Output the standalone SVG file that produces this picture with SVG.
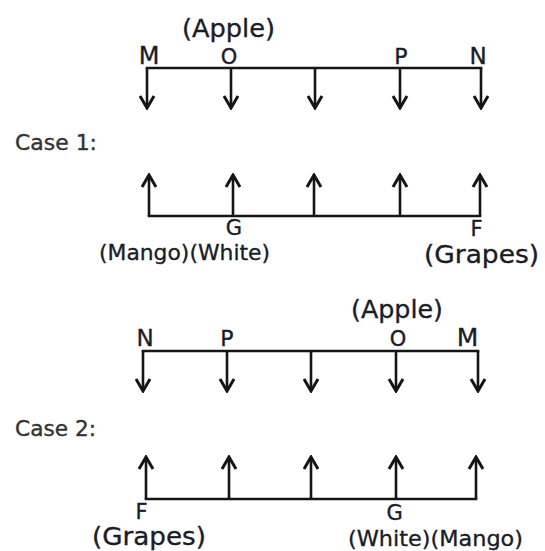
<svg xmlns="http://www.w3.org/2000/svg" width="545" height="551" viewBox="0 0 545 551">
<defs>
<marker id="ah" markerUnits="userSpaceOnUse" viewBox="-16 -10 18 20" refX="0" refY="0" markerWidth="18" markerHeight="20" orient="auto">
<path d="M-12,-7 L0,0 L-12,7" fill="none" stroke="#151515" stroke-width="3"/>
</marker>
</defs>
<style>
.ln{stroke:#151515;stroke-width:2.6;fill:none;stroke-linecap:square}
.ar{stroke:#151515;stroke-width:2.6;fill:none;marker-end:url(#ah)}
text{font-family:"DejaVu Sans","Liberation Sans",sans-serif;fill:#1c1c28;stroke:#1c1c28;stroke-width:0.35}
.lb{text-anchor:middle}
.cs{fill:#333;stroke:#333;font-size:21px}
</style>
<rect width="545" height="551" fill="#fff"/>
<g id="connectors">
<line class="ln" x1="147" y1="68" x2="481" y2="68"/>
<line class="ar" x1="147" y1="68" x2="147" y2="108"/>
<line class="ar" x1="231" y1="68" x2="231" y2="108"/>
<line class="ar" x1="315" y1="68" x2="315" y2="108"/>
<line class="ar" x1="400" y1="68" x2="400" y2="108"/>
<line class="ar" x1="481" y1="68" x2="481" y2="108"/>
<line class="ln" x1="149" y1="216" x2="480" y2="216"/>
<line class="ar" x1="149" y1="216" x2="149" y2="175"/>
<line class="ar" x1="233" y1="216" x2="233" y2="175"/>
<line class="ar" x1="314" y1="216" x2="314" y2="175"/>
<line class="ar" x1="400" y1="216" x2="400" y2="175"/>
<line class="ar" x1="480" y1="216" x2="480" y2="175"/>
<line class="ln" x1="143" y1="351" x2="478" y2="351"/>
<line class="ar" x1="143" y1="351" x2="143" y2="391"/>
<line class="ar" x1="227" y1="351" x2="227" y2="391"/>
<line class="ar" x1="311" y1="351" x2="311" y2="391"/>
<line class="ar" x1="396" y1="351" x2="396" y2="391"/>
<line class="ar" x1="478" y1="351" x2="478" y2="391"/>
<line class="ln" x1="146" y1="499" x2="476" y2="499"/>
<line class="ar" x1="146" y1="499" x2="146" y2="457"/>
<line class="ar" x1="229" y1="499" x2="229" y2="457"/>
<line class="ar" x1="311" y1="499" x2="311" y2="457"/>
<line class="ar" x1="396" y1="499" x2="396" y2="457"/>
<line class="ar" x1="476" y1="499" x2="476" y2="457"/>
</g>
<g id="case1-top">
<text x="182" y="37" font-size="24" textLength="93" lengthAdjust="spacingAndGlyphs">(Apple)</text>
<text class="lb" x="149" y="63.5" font-size="24">M</text>
<text class="lb" x="229" y="63.5" font-size="21">O</text>
<text class="lb" x="401" y="64" font-size="22">P</text>
<text class="lb" x="478" y="64" font-size="23">N</text>
</g>
<g id="case1-label"><text class="cs" x="15" y="150" textLength="82" lengthAdjust="spacingAndGlyphs">Case 1:</text></g>
<g id="case1-bottom">
<text class="lb" x="234" y="235" font-size="21">G</text>
<text x="99" y="260" font-size="22" textLength="171" lengthAdjust="spacingAndGlyphs">(Mango)(White)</text>
<text class="lb" x="476.5" y="236" font-size="21">F</text>
<text x="424" y="263" font-size="24" textLength="115" lengthAdjust="spacingAndGlyphs">(Grapes)</text>
</g>
<g id="case2-top">
<text x="351" y="318" font-size="24" textLength="92" lengthAdjust="spacingAndGlyphs">(Apple)</text>
<text class="lb" x="145" y="346" font-size="23">N</text>
<text class="lb" x="227" y="346" font-size="22">P</text>
<text class="lb" x="398" y="346" font-size="21">O</text>
<text class="lb" x="467.5" y="346" font-size="25">M</text>
</g>
<g id="case2-label"><text class="cs" x="15" y="436" textLength="81" lengthAdjust="spacingAndGlyphs">Case 2:</text></g>
<g id="case2-bottom">
<text class="lb" x="141.5" y="519" font-size="21">F</text>
<text x="92" y="545" font-size="24" textLength="114" lengthAdjust="spacingAndGlyphs">(Grapes)</text>
<text class="lb" x="394.7" y="519.5" font-size="21">G</text>
<text x="348" y="546" font-size="22" textLength="175" lengthAdjust="spacingAndGlyphs">(White)(Mango)</text>
</g>
</svg>
